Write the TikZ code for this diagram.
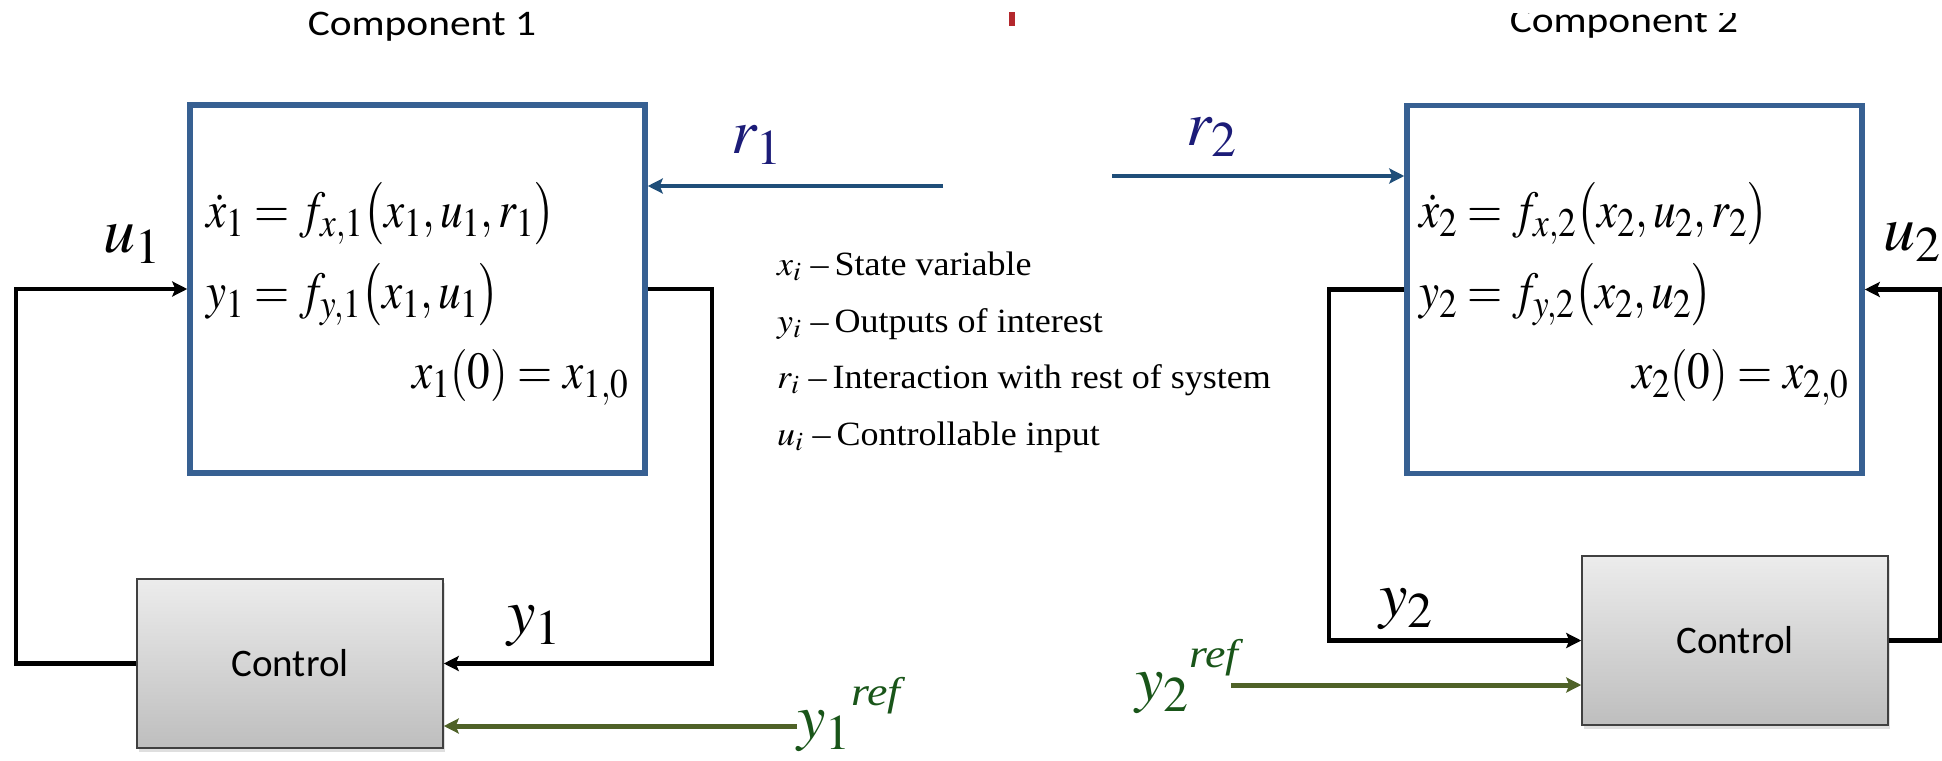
\documentclass[tikz,border=0pt]{standalone}
\usepackage{mathptmx}
\usepackage{fontspec}
\setmainfont{Liberation Serif}
\newfontfamily\calib{Carlito}
\usepackage{graphicx}
\usetikzlibrary{arrows.meta,shadows,calc}
\definecolor{boxblue}{RGB}{55,96,146}
\definecolor{arrowblue}{RGB}{31,78,121}
\definecolor{navylab}{RGB}{28,28,120}
\definecolor{olivearrow}{RGB}{79,98,40}
\definecolor{greenlab}{RGB}{25,85,25}
\definecolor{redmark}{RGB}{180,40,45}
\definecolor{ctrltop}{RGB}{236,236,236}
\definecolor{ctrlbot}{RGB}{190,190,190}
\newcommand{\sx}[2]{\scalebox{#1}[1]{#2}}
\renewcommand{\defaultscriptratio}{.78}
\thickmuskip=4mu
\medmuskip=3mu
\thinmuskip=2mu
\newcommand{\refsup}[1]{#1\raisebox{33pt}{\fontsize{40}{44}\selectfont\itshape\sx{1.15}{ref}}}
\newcommand{\eqn}[1]{\sx{0.87}{$#1$}}
\begin{document}
\begin{tikzpicture}[x=1pt,y=-1pt,
  compbox/.style={draw=boxblue,line width=5.5pt,minimum width=455pt,minimum height=368pt,inner sep=0pt},
  ctrlbox/.style={draw=black!75,line width=1.5pt,top color=ctrltop,bottom color=ctrlbot,
     minimum width=306pt,minimum height=169pt,inner sep=0pt,
     drop shadow={opacity=0.25,shadow xshift=2pt,shadow yshift=-4pt},
     font=\calib\fontsize{39}{44}\selectfont},
  conn/.style={line width=4.5pt,black,-{Stealth[length=15pt,width=15pt,inset=3pt]}},
  rconn/.style={line width=4.5pt,arrowblue,-{Stealth[length=15pt,width=15pt,inset=3pt]}},
  gconn/.style={line width=5pt,olivearrow,-{Stealth[length=15pt,width=15pt,inset=3pt]}},
  title/.style={font=\calib\fontsize{36}{40}\selectfont,anchor=base},
  eq/.style={font=\fontsize{52}{58}\selectfont,inner sep=0pt},
  biglab/.style={font=\fontsize{64}{70}\selectfont,inner sep=0pt,anchor=base west},
  legend/.style={font=\fontsize{34}{38}\selectfont,inner sep=0pt,anchor=base west}]
\useasboundingbox (0,0) rectangle (1942,760);

% titles
\node[title] (t1) at (422,36) {\sx{1.15}{Component 1}};
\begin{scope}
  \clip (1450,14) rectangle (1800,60);
  \node[title] (t2) at (1624,33) {\sx{1.15}{Component 2}};
\end{scope}
\fill[redmark] (1009,12) rectangle (1015,26);

% component boxes
\node[compbox] (b1) at (417.5,289) {};
\node[compbox] (b2) at (1634.5,289.5) {};

% equations box 1
\node[eq,anchor=base west] (e11) at (206,227) {\eqn{\dot{x}_1 = f_{x,1}\bigl(x_1,u_1,r_1\bigr)}};
\node[eq,anchor=base west] (e12) at (206,308) {\eqn{y_1 = f_{y,1}\bigl(x_1,u_1\bigr)}};
\node[eq,anchor=base east] (e13) at (629,388) {\eqn{x_1(0) = x_{1,0}}};
% equations box 2
\node[eq,anchor=base west] (e21) at (1419,227) {\eqn{\dot{x}_2 = f_{x,2}\bigl(x_2,u_2,r_2\bigr)}};
\node[eq,anchor=base west] (e22) at (1419,308) {\eqn{y_2 = f_{y,2}\bigl(x_2,u_2\bigr)}};
\node[eq,anchor=base east] (e23) at (1849,388) {\eqn{x_2(0) = x_{2,0}}};

% legend
\node[legend] (l1) at (777,275) {\sx{1.06}{$x_i$ --\,State variable}};
\node[legend] (l2) at (777,332) {\sx{1.06}{$y_i$ --\,Outputs of interest}};
\node[legend] (l3) at (777,388) {\sx{1.06}{$r_i$ --\,Interaction with rest of system}};
\node[legend] (l4) at (777,445) {\sx{1.06}{$u_i$ --\,Controllable input}};

% control boxes
\node[ctrlbox] (c1) at (290,663.5) {Control};
\node[ctrlbox] (c2) at (1735,640.5) {Control};

% helper coordinates
\coordinate (lx1) at (16,0);
\coordinate (rx1) at (712,0);
\coordinate (lx2) at (1329,0);
\coordinate (rx2) at (1940,0);
\coordinate (r1s) at (943,186);
\coordinate (r2s) at (1112,176);
\coordinate (y1rs) at (797,726);
\coordinate (y2rs) at (1231,685);

% connectors component 1
\draw[conn] (c1.west) -| (b1.west -| lx1) -- (b1.west);
\draw[conn] (b1.east) -| (c1.east -| rx1) -- (c1.east);
\draw[rconn] (r1s) -- (r1s -| b1.east);
\draw[gconn] (y1rs) -- (y1rs -| c1.east);
% connectors component 2
\draw[conn] (b2.west) -| (c2.west -| lx2) -- (c2.west);
\draw[conn] (c2.east) -| (b2.east -| rx2) -- (b2.east);
\draw[rconn] (r2s) -- (r2s -| b2.west);
\draw[gconn] (y2rs) -- (y2rs -| c2.west);

% labels
\node[biglab] (u1) at (103,252) {$u_1$};
\node[biglab] (y1) at (507,633) {$y_1$};
\node[biglab,text=navylab] (r1) at (731,153) {$r_1$};
\node[biglab,text=navylab] (r2) at (1186,145) {$r_2$};
\node[biglab] (u2) at (1883,250) {$u_2$};
\node[biglab] (y2) at (1379,616) {$y_2$};
\node[biglab,text=greenlab] (y1r) at (797,738) {\refsup{$y_1$}};
\node[biglab,text=greenlab] (y2r) at (1135,700) {\refsup{$y_2$}};
\end{tikzpicture}
\end{document}
